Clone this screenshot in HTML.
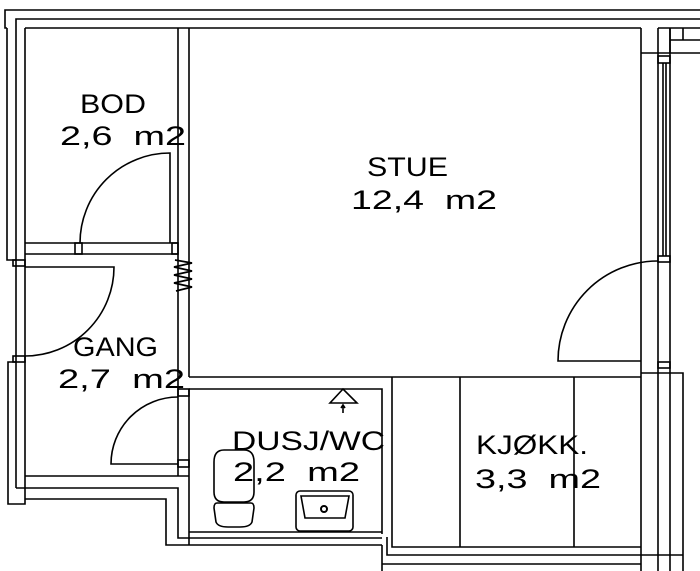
<!DOCTYPE html>
<html><head><meta charset="utf-8"><style>
html,body{margin:0;padding:0;background:#fff;}
svg{display:block;}
text{font-family:"Liberation Sans",sans-serif;font-size:27px;fill:#000;}
</style></head><body>
<svg width="700" height="571" viewBox="0 0 700 571" xmlns="http://www.w3.org/2000/svg">
<g fill="none" stroke="#000" stroke-width="1.6">
<!-- top wall -->
<path d="M700 10 H5 V28 H7"/>
<path d="M16 28 V19 H700"/>
<path d="M25 28 H641"/>
<path d="M658 28 H700 M670 40 H700 M683 28 V40 M670 28 V53"/>
<!-- left wall -->
<path d="M7 28 V260 H16"/>
<path d="M16 28 V488"/>
<path d="M25 28 V504 H8 V362 H16"/>
<rect x="13" y="260" width="12" height="6"/>
<rect x="13" y="356" width="12" height="6"/>
<!-- BOD/STUE partition -->
<path d="M178 28 V476"/>
<path d="M189 28 V377"/>
<!-- BOD bottom wall -->
<path d="M25 243 H178 M25 254 H178"/>
<rect x="75" y="243" width="7" height="11"/>
<rect x="172" y="243" width="6" height="11"/>
<!-- BOD door -->
<path d="M170 243 V153 A90 90 0 0 0 80 243"/>
<!-- spring -->
<path d="M175 260 L192 263 L174 267 L192 271 L174 275 L192 279 L174 283 L192 287 L176 291" stroke-width="1.8"/>
<!-- GANG upper door -->
<path d="M25 267 H114 A89 89 0 0 1 25 356"/>
<!-- GANG lower door -->
<path d="M178 464 H111 A67 67 0 0 1 178 397"/>
<rect x="178" y="389" width="11" height="7"/>
<rect x="178" y="460" width="11" height="7"/>
<!-- GANG bottom walls -->
<path d="M25 476 H189"/>
<path d="M16 488 H178 V538 H189"/>
<path d="M25 499 H166 V545 H382"/>
<!-- DUSJ -->
<path d="M189 377 H392"/>
<path d="M189 389 H382 V534"/>
<path d="M189 389 V545"/>
<path d="M189 532 H382 M189 538 H382"/>
<path d="M392 377 V547 H641"/>
<path d="M382 545 V571"/>
<path d="M387 537 V555 H683"/>
<path d="M382 564 H641"/>
<!-- kitchen -->
<path d="M460 377 V547 M574 377 V547"/>
<path d="M392 377 H641"/>
<!-- right wall -->
<path d="M641 28 V571"/>
<path d="M641 53 H700"/>
<path d="M658 28 V571"/>
<path d="M670 28 V571"/>
<path d="M663 63 V256 M666 63 V256"/>
<rect x="658" y="56" width="12" height="7"/>
<rect x="658" y="256" width="12" height="6"/>
<rect x="658" y="362" width="12" height="6"/>
<path d="M641 373 H683 V571"/>
<!-- right door -->
<path d="M641 361 H558 A100 100 0 0 1 658 261"/>
<!-- toilet -->
<path d="M224 450 H244 Q254 450 254 462 V492 Q254 502 244 502 H224 Q214 502 214 492 V462 Q214 450 224 450 Z"/>
<path d="M217 503 H251 Q254 503 254 508 L252 522 Q250 527 240 527 H228 Q218 527 216 522 L214 508 Q214 503 217 503 Z"/>
<!-- sink -->
<rect x="296" y="491" width="57" height="40" rx="4"/>
<path d="M301 496 H349 L345 518 H305 Z"/>
<circle cx="324" cy="509" r="3" stroke-width="2"/>
<!-- shower -->
<path d="M343 389 L330 403 H357 Z"/>
<path d="M343 405 V413 M341 408 L343 405 L345 408"/>
</g>
<text x="80" y="113" textLength="66" lengthAdjust="spacingAndGlyphs">BOD</text>
<text x="60" y="145" textLength="126" lengthAdjust="spacingAndGlyphs" xml:space="preserve">2,6  m2</text>
<text x="367" y="176" textLength="81" lengthAdjust="spacingAndGlyphs">STUE</text>
<text x="351" y="209" textLength="146" lengthAdjust="spacingAndGlyphs" xml:space="preserve">12,4  m2</text>
<text x="73" y="356" textLength="85" lengthAdjust="spacingAndGlyphs">GANG</text>
<text x="58" y="388" textLength="127" lengthAdjust="spacingAndGlyphs" xml:space="preserve">2,7  m2</text>
<text x="232" y="450" textLength="153" lengthAdjust="spacingAndGlyphs">DUSJ/WC</text>
<text x="233" y="481" textLength="127" lengthAdjust="spacingAndGlyphs" xml:space="preserve">2,2  m2</text>
<text x="476" y="454" textLength="112" lengthAdjust="spacingAndGlyphs">KJØKK.</text>
<text x="475" y="488" textLength="126" lengthAdjust="spacingAndGlyphs" xml:space="preserve">3,3  m2</text>
</svg>
</body></html>
